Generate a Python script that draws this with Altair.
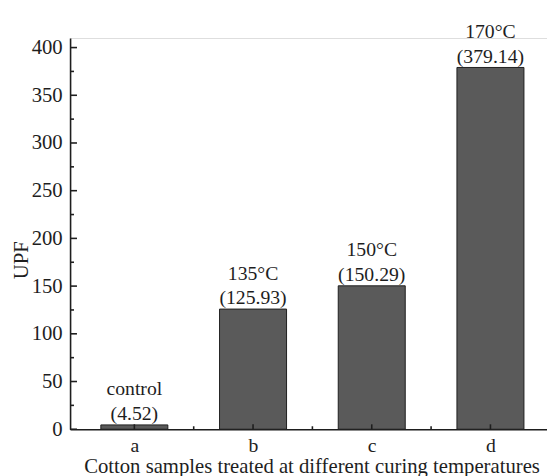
import json
import altair as alt
import pandas as pd

# ---- data ----
categories = ["a", "b", "c", "d"]
temps = ["control", "135°C", "150°C", "170°C"]
upf = [4.52, 125.93, 150.29, 379.14]

y_major = [0, 50, 100, 150, 200, 250, 300, 350, 400]
y_minor = [25, 75, 125, 175, 225, 275, 325, 375]
x_major = [0, 1, 2, 3]
x_minor = [0.5, 1.5, 2.5]

FONT = "Liberation Serif"
INK = "#1e1e1e"
W, H = 484, 397

df = pd.DataFrame({
    "idx": list(range(len(categories))),
    "cat": categories,
    "upf": upf,
    "label": [f"{t}\n({v:.2f})" for t, v in zip(temps, upf)],
})

xscale = alt.Scale(domain=[-0.5, 3.435], nice=False, zero=False)
yscale = alt.Scale(domain=[0, 410], nice=False)

label_expr = json.dumps(categories) + "[datum.value]"

bars = alt.Chart(df).mark_bar(size=68, fill="#5a5a5a", stroke=INK, strokeWidth=1).encode(
    x=alt.X("idx:Q", scale=xscale, axis=alt.Axis(
        values=x_major, labelExpr=label_expr, ticks=False, tickSize=0, grid=False,
        labelFont=FONT, labelFontSize=20, labelColor=INK, labelPadding=7,
        domainColor=INK, domainWidth=1.6,
        title="Cotton samples treated at different curing temperatures",
        titleFont=FONT, titleFontSize=21, titleFontWeight="normal", titleColor=INK,
        titleBaseline="alphabetic", titleY=44, titleX=245)),
    y=alt.Y("upf:Q", scale=yscale, axis=alt.Axis(
        values=y_major, ticks=False, tickSize=0, grid=False,
        labelFont=FONT, labelFontSize=21, labelColor=INK, labelPadding=8,
        domainColor=INK, domainWidth=1.6,
        title="UPF", titleFont=FONT, titleFontSize=21, titleFontWeight="normal",
        titleColor=INK, titleAngle=-90, titleAlign="center", titleBaseline="middle",
        titleX=-49, titleY=225)),
)

texts = alt.Chart(df).mark_text(
    font=FONT, fontSize=20, color=INK, baseline="alphabetic", align="center",
    lineBreak="\n", lineHeight=25, dy=-30,
).encode(
    x=alt.X("idx:Q", scale=xscale),
    y=alt.Y("upf:Q", scale=yscale),
    text="label:N",
)

ymaj = alt.Chart(pd.DataFrame({"v": y_major})).mark_rule(color=INK, strokeWidth=1.6).encode(
    y=alt.Y("v:Q", scale=yscale), x=alt.value(0), x2=alt.value(7))
ymin = alt.Chart(pd.DataFrame({"v": y_minor})).mark_rule(color=INK, strokeWidth=1.6).encode(
    y=alt.Y("v:Q", scale=yscale), x=alt.value(0), x2=alt.value(4))
xmaj = alt.Chart(pd.DataFrame({"idx": x_major})).mark_rule(color=INK, strokeWidth=1.6).encode(
    x=alt.X("idx:Q", scale=xscale), y=alt.value(H), y2=alt.value(H - 5))
xmin = alt.Chart(pd.DataFrame({"idx": x_minor})).mark_rule(color=INK, strokeWidth=1.6).encode(
    x=alt.X("idx:Q", scale=xscale), y=alt.value(H), y2=alt.value(H - 3))

chart = alt.layer(bars, texts, ymaj, ymin, xmaj, xmin).properties(
    width=W, height=H, autosize="none",
    padding={"left": 63, "top": 27, "right": 0, "bottom": 44},
).configure_view(stroke=None).configure(background="white")

chart.save("out.html", embed_options={"renderer": "svg", "actions": False})
